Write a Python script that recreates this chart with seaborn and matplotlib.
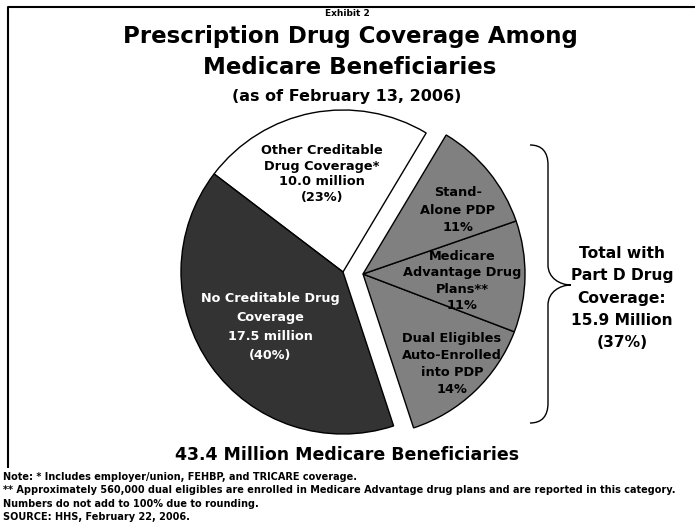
import matplotlib
matplotlib.use("Agg")
import matplotlib.pyplot as plt
from matplotlib.path import Path
from matplotlib.patches import PathPatch
import seaborn as sns

# Coverage categories, counter-clockwise from the bottom of the Part D group
categories = [
    "Dual Eligibles\nAuto-Enrolled\ninto PDP\n14%",
    "Medicare\nAdvantage Drug\nPlans**\n11%",
    "Stand-\nAlone PDP\n11%",
    "Other Creditable\nDrug Coverage*\n10.0 million\n(23%)",
    "No Creditable Drug\nCoverage\n17.5 million\n(40%)",
]
shares = [14, 11, 11, 23, 40]
part_d = [True, True, True, False, False]
slice_colors = ["#808080", "#808080", "#808080", "#ffffff", "#333333"]
label_colors = ["black", "black", "black", "black", "white"]

title_lines = ["Prescription Drug Coverage Among", "Medicare Beneficiaries"]
subtitle = "(as of February 13, 2006)"
total_label = "Total with\nPart D Drug\nCoverage:\n15.9 Million\n(37%)"
footer = "43.4 Million Medicare Beneficiaries"
notes = [
    "Note: * Includes employer/union, FEHBP, and TRICARE coverage.",
    "** Approximately 560,000 dual eligibles are enrolled in Medicare Advantage drug plans and are reported in this category.",
    "Numbers do not add to 100% due to rounding.",
    "SOURCE: HHS, February 22, 2006.",
]

sns.set_theme(style="white")
plt.rcParams["font.family"] = ["DejaVu Sans"]
plt.rcParams["font.weight"] = "bold"
plt.rcParams["text.color"] = "black"

W, H = 695, 523
fig = plt.figure(figsize=(W / 100, H / 100), dpi=100)
ax = fig.add_axes([0, 0, 1, 1])


def Y(y):
    # convert top-down pixel row to axis coordinate
    return H - y


cx, cy, r = 343, Y(272), 162
wedges, _ = ax.pie(
    shares,
    colors=slice_colors,
    startangle=-71.8,
    counterclock=True,
    radius=r,
    center=(cx, cy),
    wedgeprops=dict(edgecolor="black", linewidth=1.0),
)
# pull the Part D group out together as one block
for w, grp in zip(wedges, part_d):
    if grp:
        w.set_center((cx + 20, cy - 2))

ax.set_xlim(0, W)
ax.set_ylim(0, H)
ax.set_aspect("equal")
ax.axis("off")

# slice labels
label_pos = [(452, 364), (462, 281), (458, 210), (322, 174), (270, 327)]
label_size = [9.3, 9.3, 9.3, 9.3, 9.2]
label_spacing = [1.4, 1.35, 1.42, 1.28, 1.63]
for txt, (lx, ly), col, fs, ls in zip(categories, label_pos, label_colors, label_size, label_spacing):
    ax.text(lx, Y(ly), txt, ha="center", va="center", color=col,
            fontsize=fs, fontweight="bold", linespacing=ls)

# curly brace spanning the Part D group
bx, tip = 548, 571
verts = [
    (530, 145), (542, 145), (bx, 152), (bx, 165),
    (bx, 265),
    (bx, 278), (560, 285), (tip, 285),
    (560, 285), (bx, 292), (bx, 305),
    (bx, 403),
    (bx, 416), (542, 423), (530, 423),
]
codes = [Path.MOVETO, Path.CURVE4, Path.CURVE4, Path.CURVE4,
         Path.LINETO,
         Path.CURVE4, Path.CURVE4, Path.CURVE4,
         Path.CURVE4, Path.CURVE4, Path.CURVE4,
         Path.LINETO,
         Path.CURVE4, Path.CURVE4, Path.CURVE4]
verts = [(x, Y(y)) for x, y in verts]
ax.add_patch(PathPatch(Path(verts, codes), facecolor="none", edgecolor="black", lw=1.0))

ax.text(622, Y(298), total_label, ha="center", va="center", fontsize=11.2,
        fontweight="bold", linespacing=1.62)

# titles
ax.text(347, Y(13), "Exhibit 2", ha="center", va="center", fontsize=6.5, fontweight="bold")
ax.text(350, Y(36), title_lines[0], ha="center", va="center", fontsize=16.5, fontweight="bold")
ax.text(350, Y(68), title_lines[1], ha="center", va="center", fontsize=16.5, fontweight="bold")
ax.text(347, Y(96), subtitle, ha="center", va="center", fontsize=11.5, fontweight="bold")

ax.text(347, Y(455), footer, ha="center", va="center", fontsize=12.5, fontweight="bold")
for i, line in enumerate(notes):
    ax.text(3, Y(477 + 13.3 * i), line, ha="left", va="center", fontsize=7.05, fontweight="bold")

# frame around the exhibit
ax.plot([8, 8, W + 5], [Y(468), Y(7), Y(7)], color="black", lw=1.5, solid_capstyle="butt")

fig.savefig("out.png", dpi=100, facecolor="white")
